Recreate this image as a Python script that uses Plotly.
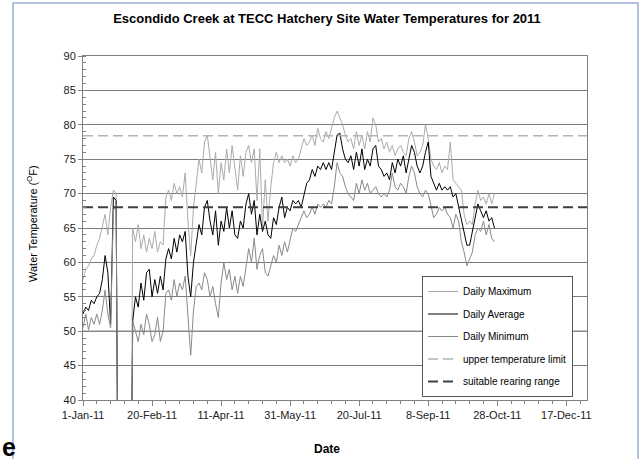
import plotly.graph_objects as go
import pandas as pd

# ---------------- data ----------------
start_date = "2011-01-01"
step_days = 2

daily_max = [57.5, 59, 59.5, 60.5, 61, 62.5, 63.5, 65.5, 67, 64, 68, 70.5, 70,
             0, 0, 0, 0, 0,
             65, 63, 65.5, 62, 64, 61.5, 63.5, 62, 64.5, 61.5, 63, 62.5,
             69.5, 70.5, 69, 71.5, 70, 71, 69.5, 73, 66, 61, 68, 72,
             75, 73, 77.5, 78.5, 75, 72, 76, 70, 74.5, 72, 76.5, 73,
             77, 74, 70.5, 75.5, 72.5, 76, 77, 74.5, 76.5, 69, 76.5, 65,
             72, 66, 71, 74.5, 76, 74.5, 75.5, 74.5, 75, 74, 75.5, 74.5,
             75, 76.5, 78, 77, 77.5, 78.5, 77, 79.5, 78, 77.5, 79, 78,
             79.5, 81, 82, 81, 80, 78.5, 77.5, 78, 76.5, 79, 77, 78.5,
             76.5, 79, 77.5, 81, 80, 77.5, 78, 76.5, 77.5, 76, 77, 75.5,
             76.5, 77, 76, 75.5, 78, 79, 77.5, 75.5, 76, 77, 80, 78,
             75, 74, 73.5, 74.5, 73, 74, 73.5, 77.5, 72, 71.5, 71, 70.5,
             67, 65.5, 66, 65.5, 68.5, 70.5, 69, 69.5, 68.5, 70, 68.5, 70]

daily_avg = [52.5, 53.5, 53, 54.5, 54, 55, 55.5, 57.5, 61, 58.5, 51, 69.5, 69,
             0, 0, 0, 0, 0,
             51.5, 55, 53.5, 57, 54.5, 58.5, 59, 55, 57.5, 55.5, 58, 56,
             60.5, 62, 60.5, 63.5, 61.5, 64, 63, 64.5, 58, 55, 60, 63,
             65.5, 64, 68, 69, 66, 64, 67.5, 62.5, 66, 64.5, 68, 65,
             67.5, 64, 63.5, 66, 65, 68.5, 70, 67, 69, 64, 67, 64.5,
             66, 64, 63.5, 66.5, 65.5, 68, 69.5, 66.5, 68, 67.5, 69, 68.5,
             69, 68, 70, 71.5, 72, 73.5, 72.5, 74, 73.5, 74.5, 73.5, 74.5,
             73.5, 76, 78.5, 78.8, 76.5, 75, 74.5, 75.5, 73.5, 76, 74, 76.5,
             73.5, 75, 74, 76.5, 77, 74, 73.5, 72.5, 73, 72, 74.5, 73,
             75, 74, 75.5, 73, 75, 77, 76, 74, 73, 74, 76, 77.5,
             72.5, 71.5, 70.5, 71.5, 70.5, 71, 70.5, 71, 69.5, 70, 68, 66,
             64, 62.5, 62.5, 64.5, 66.5, 68.5, 67.5, 66.5, 67.5, 66, 66.5, 65]

daily_min = [50.5, 52.5, 50.2, 52, 51, 52.5, 51, 53, 56, 52.5, 50.5, 67.5, 68.5,
             0, 0, 0, 0, 0,
             51.5, 50, 48.5, 51, 49.5, 52.5, 51, 48.5, 49.5, 52, 48.5, 50,
             55.5, 56, 54.5, 57.5, 55, 57, 56, 58, 52, 46.5, 53, 56.5,
             57, 56, 58.5, 57.5, 55, 56.5, 54, 52, 57, 60, 57.5, 59,
             56, 58, 55.5, 58, 56.5, 59, 62, 60, 63.5, 59, 61, 62,
             58.5, 58, 59.5, 61, 60, 62.5, 61, 63, 61.5, 63.5, 65, 64.5,
             65.5, 66.5, 67.5, 66.5, 67, 68, 67, 68.5, 68, 68.5, 68, 69,
             68.5, 71, 74.5, 73, 72.5, 71, 70, 69.5, 69, 71.5, 70, 72,
             70.5, 71.5, 70, 70.5, 71, 70, 69.5, 70, 69.5, 70.5, 73, 71,
             70.5, 71.5, 71, 70, 72.5, 74, 73, 71, 70, 69.5, 70.5, 70,
             68, 66.5, 67, 68, 67.5, 68, 67, 66.5, 65, 67, 66, 63,
             61.5, 59.5, 60.5, 61.5, 64, 65, 64.5, 66, 64, 65.5, 63.5, 63]

limit_dates = ["2011-01-01", "2012-01-01"]
upper_limit = [78.4, 78.4]
rearing_range = [68.0, 68.0]
lower_line = [50.0, 50.0]

series_names = ["Daily Maximum", "Daily Average", "Daily Minimum",
                "upper temperature limit", "suitable rearing range"]

# ---------------- figure ----------------
dates = pd.date_range(start_date, periods=len(daily_avg), freq=f"{step_days}D")
FONT = "Liberation Sans, Arial, sans-serif"

fig = go.Figure()
fig.add_trace(go.Scatter(x=limit_dates, y=lower_line, mode="lines",
                         line=dict(color="#8c8c8c", width=1.3),
                         showlegend=False, hoverinfo="skip"))
fig.add_trace(go.Scatter(x=dates, y=daily_max, mode="lines", name=series_names[0],
                         legendgroup="g1", line=dict(color="#ababab", width=1)))
fig.add_trace(go.Scatter(x=dates, y=daily_avg, mode="lines", name=series_names[1],
                         legendgroup="g2", line=dict(color="#000000", width=1)))
fig.add_trace(go.Scatter(x=dates, y=daily_min, mode="lines", name=series_names[2],
                         legendgroup="g3", line=dict(color="#8a8a8a", width=1)))
fig.add_trace(go.Scatter(x=limit_dates, y=upper_limit, mode="lines", name=series_names[3],
                         legendgroup="g4",
                         line=dict(color="#b4b4b4", width=1.5, dash="10px,5px")))
fig.add_trace(go.Scatter(x=limit_dates, y=rearing_range, mode="lines", name=series_names[4],
                         legendgroup="g5",
                         line=dict(color="#404040", width=2, dash="10px,5px")))

L, R, T, B = 83, 587, 56, 400
W, H = 643, 459
pw, ph = R - L, B - T

def px(xp):
    return (xp - L) / pw

def py(yp):
    return (B - yp) / ph

fig.update_layout(
    width=W, height=H,
    margin=dict(l=L, r=W - R, t=T, b=H - B, pad=0),
    paper_bgcolor="white", plot_bgcolor="white",
    font=dict(family=FONT, size=11, color="#000000"),
    title=dict(text="<b>Escondido Creek at TECC Hatchery Site Water Temperatures for 2011</b>",
               x=327 / W, xref="container", xanchor="center",
               y=1 - 18 / H, yref="container", yanchor="middle",
               font=dict(size=13, family=FONT, color="#000000")),
    showlegend=True,
    legend=dict(x=px(422), y=py(276), xanchor="left", yanchor="top",
                bgcolor="white", bordercolor="#555555", borderwidth=1,
                font=dict(size=10, family=FONT, color="#000000"),
                itemwidth=30, tracegroupgap=3.5, traceorder="grouped"),
    xaxis=dict(type="date", range=["2011-01-01", "2012-01-01"],
               tick0="2011-01-01", dtick=50 * 86400000, tickformat="%-d-%b-%y",
               showgrid=False, zeroline=False,
               showline=True, linecolor="#808080", linewidth=1, mirror=True,
               ticks="outside", ticklen=5, tickcolor="#808080",
               tickfont=dict(size=11, color="#222222"),
               minor=dict(dtick=10 * 86400000, tick0="2011-01-01", ticks="outside",
                          ticklen=3, tickcolor="#808080", showgrid=False)),
    yaxis=dict(range=[40, 90], dtick=5, tick0=40,
               showgrid=True, gridcolor="#7a7a7a", gridwidth=1, zeroline=False,
               showline=True, linecolor="#808080", linewidth=1, mirror=True,
               ticks="outside", ticklen=4, tickcolor="#808080",
               tickfont=dict(size=11, color="#222222"),
               minor=dict(dtick=1, ticks="inside", ticklen=3, tickcolor="#808080",
                          showgrid=False)),
    shapes=[dict(type="rect", xref="paper", yref="paper",
                 x0=px(13), x1=px(638), y0=py(470), y1=py(3),
                 line=dict(color="#9aabd6", width=1.5), fillcolor="rgba(0,0,0,0)",
                 layer="below")],
    annotations=[
        dict(text="Water Temperature (<sup>O</sup>F)", textangle=-90,
             x=px(32), y=py(224), xref="paper", yref="paper",
             xanchor="center", yanchor="middle", showarrow=False,
             font=dict(size=11, family=FONT, color="#000000")),
        dict(text="<b>Date</b>", x=px(327), y=py(449), xref="paper", yref="paper",
             xanchor="center", yanchor="middle", showarrow=False,
             font=dict(size=12, family=FONT, color="#000000")),
        dict(text="<b>e</b>", x=px(0), y=py(447), xref="paper", yref="paper",
             xanchor="left", yanchor="middle", showarrow=False,
             font=dict(size=25, family=FONT, color="#000000")),
    ],
)

fig.write_html(
    "out.html",
    config={"displayModeBar": False},
    post_script="document.body.style.margin='0';document.body.style.overflow='hidden';",
)
